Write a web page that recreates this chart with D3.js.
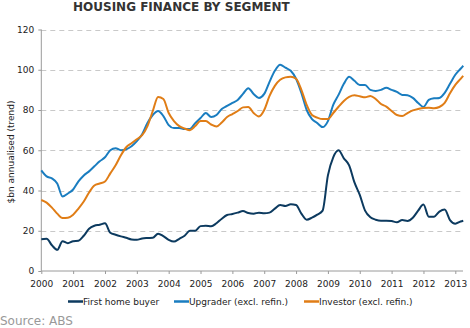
<!DOCTYPE html>
<html>
<head>
<meta charset="utf-8">
<script src="https://cdn.jsdelivr.net/npm/d3@7/dist/d3.min.js"></script>
<style>
  html, body { margin: 0; padding: 0; background: #fff; }
  svg { display: block; font-family: "DejaVu Sans", Verdana, sans-serif; }
</style>
</head>
<body>
<div id="chart"></div>
<script>
// ---- Data (bi-monthly readings, $bn annualised, trend) ----
const dates = [
  "2000-01","2000-03","2000-05","2000-07","2000-09","2000-11",
  "2001-01","2001-03","2001-05","2001-07","2001-09","2001-11",
  "2002-01","2002-03","2002-05","2002-07","2002-09","2002-11",
  "2003-01","2003-03","2003-05","2003-07","2003-09","2003-11",
  "2004-01","2004-03","2004-05","2004-07","2004-09","2004-11",
  "2005-01","2005-03","2005-05","2005-07","2005-09","2005-11",
  "2006-01","2006-03","2006-05","2006-07","2006-09","2006-11",
  "2007-01","2007-03","2007-05","2007-07","2007-09","2007-11",
  "2008-01","2008-03","2008-05","2008-07","2008-09","2008-11",
  "2009-01","2009-03","2009-05","2009-07","2009-09","2009-11",
  "2010-01","2010-03","2010-05","2010-07","2010-09","2010-11",
  "2011-01","2011-03","2011-05","2011-07","2011-09","2011-11",
  "2012-01","2012-03","2012-05","2012-07","2012-09","2012-11",
  "2013-01","2013-03","2013-04"
];
const firstHomeBuyer = [
  15.8,16.0,12.8,10.5,14.8,13.8,
  14.8,15.0,17.5,21.0,22.5,23.0,
  23.7,19.0,18.0,17.2,16.5,15.7,
  15.5,16.2,16.4,16.5,18.5,17.3,
  15.5,14.6,16.0,17.5,20.0,20.0,
  22.3,22.5,22.2,23.7,26.0,27.8,
  28.3,29.0,29.8,28.8,28.5,29.0,
  28.7,29.0,31.0,32.8,32.3,33.2,
  32.8,28.5,25.5,26.5,28.0,30.0,
  47.5,56.5,60.0,56.0,52.5,44.0,
  37.8,30.0,26.7,25.5,25.0,25.0,
  24.8,24.2,25.3,24.9,26.5,30.0,
  33.0,27.0,27.0,29.5,30.5,25.3,
  23.5,24.6,25.0
];
const upgrader = [
  50.0,47.0,46.0,43.5,37.0,38.5,
  40.5,44.5,47.5,49.5,52.0,54.5,
  56.5,60.0,61.0,60.0,60.5,62.0,
  64.5,68.0,73.5,77.5,79.5,77.0,
  72.5,71.0,71.0,70.5,70.5,73.5,
  76.0,78.5,76.5,77.5,80.5,82.0,
  83.5,85.0,88.0,90.8,88.0,86.0,
  88.0,94.0,99.5,102.5,101.0,99.5,
  95.5,88.5,80.0,75.5,73.5,71.5,
  74.5,82.5,87.5,93.0,96.5,94.5,
  92.4,92.4,90.0,89.5,90.0,91.0,
  90.0,89.0,87.5,87.3,86.0,83.5,
  81.5,85.0,85.8,86.0,88.5,93.0,
  97.5,100.5,102.0
];
const investor = [
  35.3,34.0,31.5,28.5,26.3,26.5,
  28.0,31.0,34.5,39.0,42.5,43.5,
  44.5,48.5,52.5,57.5,61.5,63.5,
  65.5,67.5,72.0,79.5,86.5,85.5,
  78.5,74.5,72.0,70.8,70.0,72.0,
  74.5,74.5,72.8,71.8,73.8,76.5,
  78.0,79.5,81.3,81.5,78.5,76.8,
  80.0,87.0,92.0,95.0,96.2,96.5,
  95.5,90.0,82.5,77.5,76.2,75.5,
  75.5,78.5,81.6,84.5,86.5,87.3,
  86.8,86.3,87.0,85.5,83.0,81.7,
  79.5,77.5,77.0,78.5,79.8,80.5,
  81.0,81.1,80.9,81.5,83.5,88.3,
  92.5,95.5,97.0
];
const seriesNames = ["First home buyer", "Upgrader (excl. refin.)", "Investor (excl. refin.)"];
const seriesColors = ["#0c3a5f", "#1a7dc0", "#e07d16"];
const yTicks = [0, 20, 40, 60, 80, 100, 120];
const xTicks = [2000,2001,2002,2003,2004,2005,2006,2007,2008,2009,2010,2011,2012,2013];

// ---- Chart ----
const W = 470, H = 328;
const svg = d3.select("#chart").append("svg").attr("width", W).attr("height", H);

const toYear = s => { const [y, m] = s.split("-").map(Number); return y + (m - 1) / 12; };
const xs = dates.map(toYear);

const x = d3.scaleLinear().domain([2000, 2013]).range([41.3, 455.3]);
const y = d3.scaleLinear().domain([0, 120]).range([271, 29.5]);
const xEnd = 463;

// title
svg.append("text").attr("x", 73).attr("y", 11)
  .attr("font-size", 12).attr("font-weight", "bold").attr("fill", "#333")
  .text("HOUSING FINANCE BY SEGMENT");

// gridlines
svg.append("g").selectAll("line").data(yTicks.filter(d => d > 0)).join("line")
  .attr("x1", x(2000)).attr("x2", xEnd)
  .attr("y1", d => Math.round(y(d)) + 0.5).attr("y2", d => Math.round(y(d)) + 0.5)
  .attr("stroke", "#c9c9c9").attr("stroke-width", 1).attr("stroke-dasharray", "5,4");

// y axis
const yAxis = svg.append("g").attr("transform", `translate(${x(2000)},0)`)
  .call(d3.axisLeft(y).tickValues(yTicks).tickSize(3).tickPadding(4));
yAxis.select(".domain").attr("stroke", "#9a9a9a").attr("d", `M0,${y(120)}V${y(0)}`);
yAxis.selectAll(".tick line").attr("stroke", "#9a9a9a");
yAxis.selectAll("text").attr("font-size", 9).attr("fill", "#222")
  .attr("font-family", "DejaVu Sans, Verdana, sans-serif");

// x axis
const xAxis = svg.append("g").attr("transform", `translate(0,${y(0)})`)
  .call(d3.axisBottom(x).tickValues(xTicks).tickFormat(d3.format("d")).tickSize(3).tickPadding(7));
xAxis.select(".domain").attr("stroke", "#9a9a9a").attr("d", `M${x(2000)},0H${xEnd}`);
xAxis.selectAll(".tick line").attr("stroke", "#9a9a9a");
xAxis.selectAll("text").attr("font-size", 9).attr("fill", "#222")
  .attr("font-family", "DejaVu Sans, Verdana, sans-serif");

// y title
svg.append("text")
  .attr("transform", `translate(14,152) rotate(-90)`)
  .attr("text-anchor", "middle").attr("font-size", 9).attr("fill", "#222")
  .text("$bn annualised (trend)");

// lines
const allSeries = [firstHomeBuyer, upgrader, investor];
const line = d3.line().x((d, i) => x(xs[i])).y(d => y(d)).curve(d3.curveMonotoneX);
[0, 1, 2].forEach(k => {
  svg.append("path").datum(allSeries[k])
    .attr("fill", "none").attr("stroke", seriesColors[k])
    .attr("stroke-width", 2).attr("stroke-linejoin", "round")
    .attr("d", line);
});

// legend
const legendX = [68, 174, 304];
const lg = svg.append("g");
seriesNames.forEach((name, k) => {
  lg.append("line").attr("x1", legendX[k]).attr("x2", legendX[k] + 15)
    .attr("y1", 301.5).attr("y2", 301.5)
    .attr("stroke", seriesColors[k]).attr("stroke-width", 2.5);
  lg.append("text").attr("x", legendX[k] + 15).attr("y", 304.5)
    .attr("font-size", 9).attr("fill", "#222").text(name);
});

// source
svg.append("text").attr("x", 0).attr("y", 325)
  .attr("font-size", 12).attr("fill", "#999").text("Source: ABS");
</script>
</body>
</html>
